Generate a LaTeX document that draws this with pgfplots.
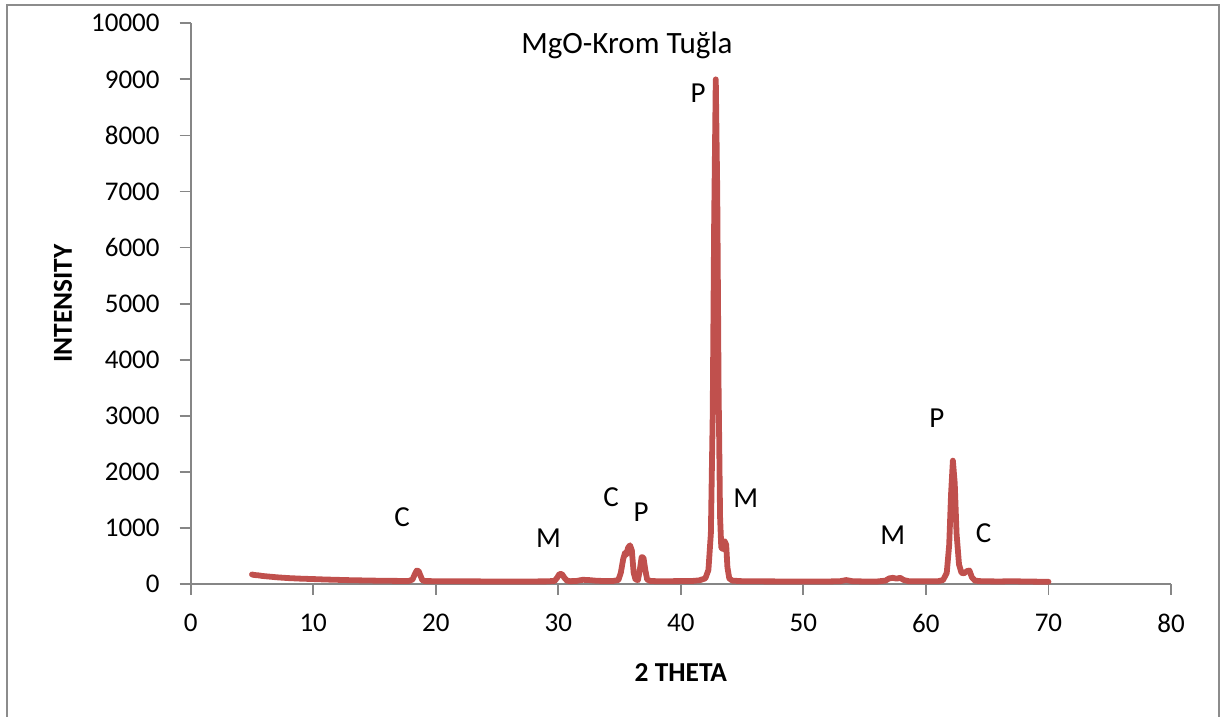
\documentclass[border=0pt]{standalone}
\usepackage{pgfplots}
\pgfplotsset{compat=1.18}
\usepackage{fontspec}
\setmainfont{Carlito}
\definecolor{xrd}{RGB}{192,80,77}
\definecolor{axgray}{RGB}{134,134,134}
\definecolor{framegray}{RGB}{140,140,140}
\pgfplotstableread{
x y
5.0 170
5.2 160
5.5 155
5.8 145
6.0 140
6.5 130
7.0 120
7.5 112
8.0 105
9.0 95
10.0 88
11.0 80
12.0 74
13.0 68
14.0 64
15.0 60
16.0 57
17.0 55
17.8 54
18.1 80
18.3 180
18.45 240
18.6 230
18.75 150
18.9 70
19.1 52
20.0 50
21.0 50
22.0 48
23.0 47
24.0 46
25.0 45
26.0 45
27.0 45
28.0 46
29.0 47
29.7 55
29.9 110
30.1 180
30.3 175
30.5 110
30.7 60
31.0 50
31.5 55
32.0 75
32.5 70
33.0 60
33.5 55
34.0 55
34.5 55
34.9 70
35.1 200
35.3 450
35.45 560
35.55 520
35.7 650
35.85 690
36.0 600
36.15 200
36.3 80
36.5 70
36.65 250
36.8 480
36.95 470
37.1 250
37.25 80
37.5 55
38.0 50
39.0 50
40.0 52
41.0 55
41.5 65
42.0 100
42.25 250
42.45 900
42.6 3000
42.72 6500
42.85 9000
42.97 7000
43.08 3500
43.2 1200
43.3 650
43.45 620
43.58 760
43.7 700
43.8 300
43.95 100
44.2 60
45.0 50
46.0 48
48.0 46
50.0 45
52.0 45
53.0 50
53.5 70
54.0 50
55.0 45
56.0 45
56.7 60
57.0 100
57.3 110
57.6 95
57.9 110
58.2 70
58.6 50
59.0 48
60.0 48
61.0 50
61.4 70
61.7 200
61.9 700
62.05 1600
62.2 2200
62.35 1800
62.5 900
62.7 350
62.9 200
63.1 190
63.35 230
63.55 240
63.75 120
64.0 60
64.5 50
65.0 48
66.0 45
67.0 50
68.0 45
69.0 42
70.0 40
}\xrddata
\begin{document}
\begin{tikzpicture}
\useasboundingbox (-95.35pt,-66.5pt) rectangle (518.15pt,292pt);
\draw[framegray, line width=1pt] (-91.7pt,-70pt) -- (-91.7pt,289.5pt) -- (514.15pt,289.5pt) -- (514.15pt,-70pt);
\begin{axis}[
  at={(0pt,0pt)}, anchor=south west,
  scale only axis, width=490.15pt, height=280.35pt,
  xmin=0, xmax=80, ymin=0, ymax=10000,
  axis lines*=left,
  axis line style={axgray, line width=0.9pt},
  tick style={axgray, line width=0.9pt},
  tick align=outside, major tick length=5.5pt,
  xtick={0,10,...,80}, ytick={0,1000,...,10000},
  scaled y ticks=false,
  /pgf/number format/1000 sep={},
  /pgf/number format/assume math mode=true,
  ticklabel style={font=\fontsize{13.5}{16}\selectfont, text=black},
  yticklabel style={anchor=east, inner sep=0pt, xshift=-9.85pt},
  xticklabel style={anchor=center, inner sep=0pt, yshift=-14pt},
  xlabel={2 THETA}, ylabel={INTENSITY},
  label style={font=\fontsize{13.7}{16}\selectfont\bfseries},
  xlabel style={at={(axis description cs:0.5,-0.157)}, anchor=center},
  ylabel style={at={(axis description cs:-0.1302,0.5)}, anchor=center},
  clip=false,
]
\addplot[xrd, line width=2.9pt, line join=round, line cap=round] table[x=x,y=y] {\xrddata};
\node[font=\fontsize{15.5}{18}\selectfont] at (axis cs:35.6,9613) {MgO-Krom Tuğla};
\begin{scope}[font=\fontsize{14.5}{17}\selectfont]
\node at (axis cs:17.25,1195) {C};
\node at (axis cs:29.2,820) {M};
\node at (axis cs:34.3,1550) {C};
\node at (axis cs:36.76,1284) {P};
\node at (axis cs:41.4,8757) {P};
\node at (axis cs:45.3,1534) {M};
\node at (axis cs:57.3,874) {M};
\node at (axis cs:60.9,2960) {P};
\node at (axis cs:64.7,910) {C};
\end{scope}
\end{axis}
\end{tikzpicture}
\end{document}
